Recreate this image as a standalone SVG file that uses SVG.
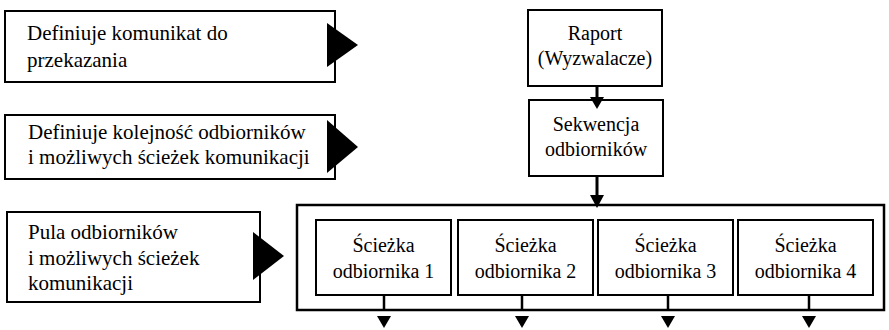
<svg xmlns="http://www.w3.org/2000/svg" width="889" height="330" viewBox="0 0 889 330">
<style>
.box{fill:#fff;stroke:#000;stroke-width:2}
.outer{fill:#fff;stroke:#000;stroke-width:2.5}
.t{font-family:"Liberation Serif","Times New Roman",serif;font-size:20px;fill:#000}
.tl{font-family:"Liberation Serif","Times New Roman",serif;font-size:21px;fill:#000}
.c{text-anchor:middle}
.ln{stroke:#000;stroke-width:3;fill:none}
.stub{stroke:#000;stroke-width:2.5;fill:none}
.tri{fill:#000}
</style>
<rect width="889" height="330" fill="#fff"/>
<g id="desc1">
<rect class="box" x="5" y="11" width="330" height="71"/>
<polygon class="tri" points="327,23 358,45 327,67"/>
<text class="tl" x="27" y="40">Definiuje komunikat do</text>
<text class="tl" x="27" y="67">przekazania</text>
</g>
<g id="desc2">
<rect class="box" x="5" y="115" width="330" height="64"/>
<polygon class="tri" points="327,120 358,147 327,173"/>
<text class="tl" x="28" y="139">Definiuje kolejność odbiorników</text>
<text class="tl" x="28" y="164">i możliwych ścieżek komunikacji</text>
</g>
<g id="desc3">
<rect class="box" x="7" y="212" width="253" height="90"/>
<polygon class="tri" points="253,232 284,256 253,280"/>
<text class="tl" x="28" y="239">Pula odbiorników</text>
<text class="tl" x="28" y="265">i możliwych ścieżek</text>
<text class="tl" x="28" y="290">komunikacji</text>
</g>
<g id="raport">
<rect class="box" x="528" y="10" width="134" height="76"/>
<text class="t c" x="595" y="40">Raport</text>
<text class="t c" x="595" y="65">(Wyzwalacze)</text>
</g>
<g id="sekwencja">
<rect class="box" x="529" y="100" width="134" height="76"/>
<text class="t c" x="596" y="131">Sekwencja</text>
<text class="t c" x="596" y="156">odbiorników</text>
</g>
<g id="pula">
<rect class="outer" x="297" y="205" width="587" height="105"/>
</g>
<g id="sciezka1">
<rect class="box" x="316" y="220" width="135" height="75"/>
<text class="t c" x="383.5" y="252">Ścieżka</text>
<text class="t c" x="383.5" y="278">odbiornika 1</text>
</g>
<g id="sciezka2">
<rect class="box" x="458" y="220" width="135" height="75"/>
<text class="t c" x="525.5" y="252">Ścieżka</text>
<text class="t c" x="525.5" y="278">odbiornika 2</text>
</g>
<g id="sciezka3">
<rect class="box" x="598" y="220" width="135" height="75"/>
<text class="t c" x="665.5" y="252">Ścieżka</text>
<text class="t c" x="665.5" y="278">odbiornika 3</text>
</g>
<g id="sciezka4">
<rect class="box" x="738" y="220" width="135" height="75"/>
<text class="t c" x="805.5" y="252">Ścieżka</text>
<text class="t c" x="805.5" y="278">odbiornika 4</text>
</g>
<g id="connectors">
<line class="ln" x1="597" y1="86" x2="597" y2="99"/>
<polygon class="tri" points="590,97 604,97 597,109"/>
<line class="ln" x1="597" y1="176" x2="597" y2="197"/>
<polygon class="tri" points="590,195 604,195 597,208"/>
<line class="stub" x1="384" y1="295" x2="384" y2="309"/>
<polygon class="tri" points="377,316 391,316 384,328"/>
<line class="stub" x1="522" y1="295" x2="522" y2="309"/>
<polygon class="tri" points="515,316 529,316 522,328"/>
<line class="stub" x1="668" y1="295" x2="668" y2="309"/>
<polygon class="tri" points="661,316 675,316 668,328"/>
<line class="stub" x1="809" y1="295" x2="809" y2="309"/>
<polygon class="tri" points="802,316 816,316 809,328"/>
</g>
</svg>
